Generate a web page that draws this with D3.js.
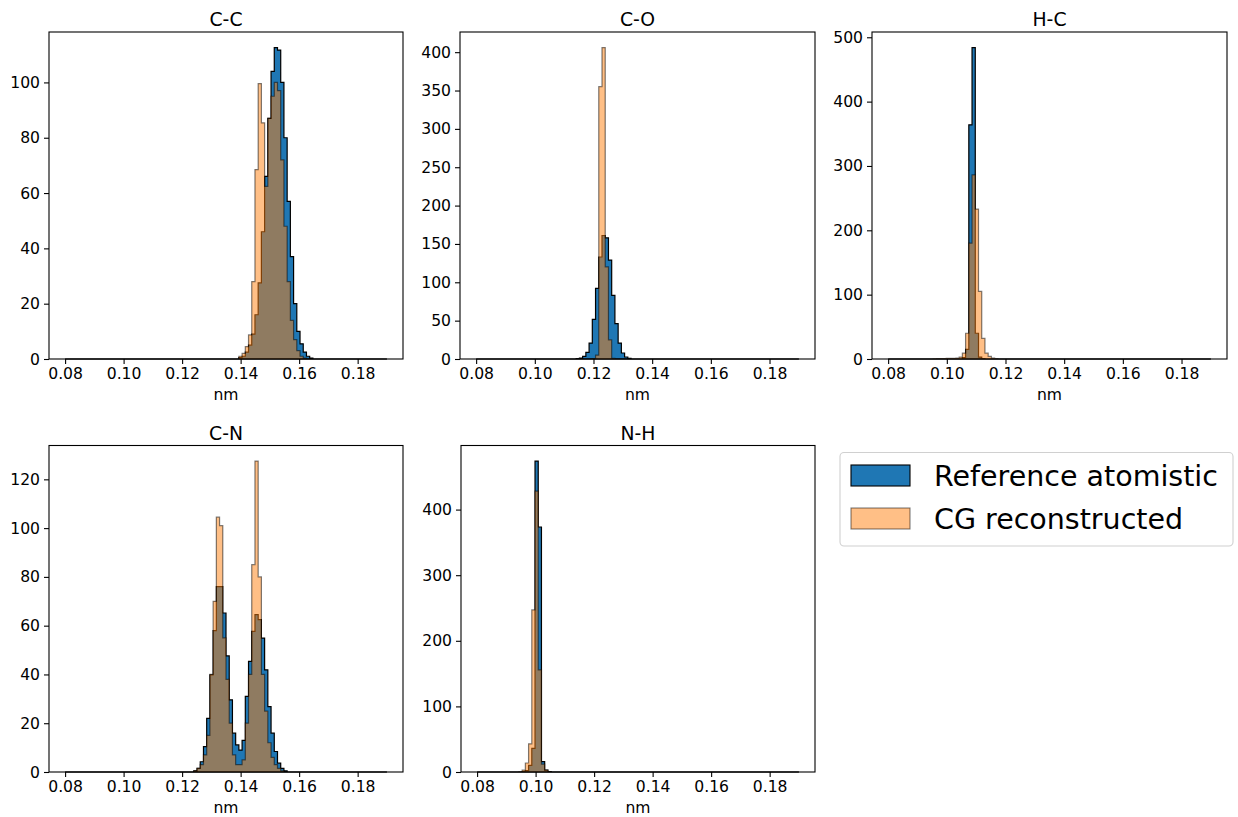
<!DOCTYPE html>
<html><head><meta charset="utf-8">
<script src="https://cdn.jsdelivr.net/npm/d3@7"></script>
<style>body{margin:0;background:#fff} svg text{font-family:"DejaVu Sans",sans-serif}</style>
</head><body><svg id="c" width="1238" height="817"></svg>
<script>
// ---- data ----
const binStart = 0.08, binEnd = 0.19, binCount = 100;
const xTicks = [0.08, 0.10, 0.12, 0.14, 0.16, 0.18];
const panelNames = ["C-C", "C-O", "H-C", "C-N", "N-H"];
const seriesNames = ["Reference atomistic", "CG reconstructed"];

const ccRefFirstBin = 54;
const ccRef = [0.5, 1, 2.5, 5, 9, 16, 27.5, 46, 66, 87, 104, 112.6, 111.7, 100, 80, 57, 37, 20, 10, 5.5, 2.5, 1, 0.3];
const ccCgFirstBin = 54;
const ccCg = [1, 2, 4.5, 8.7, 28, 68.5, 99.6, 85.4, 62.4, 87, 95, 100, 97, 72, 48, 28, 14, 7, 3, 1, 0.3];
const ccYTicks = [0, 20, 40, 60, 80, 100];

const coRefFirstBin = 31;
const coRef = [0.4, 1.2, 3.5, 8.7, 20.8, 51.6, 92, 133, 161, 158, 129, 83, 46, 20.8, 7.8, 2.6, 0.8];
const coCgFirstBin = 36;
const coCg = [0.5, 5, 355, 406, 120, 25, 1];
const coYTicks = [0, 50, 100, 150, 200, 250, 300, 350, 400];

const hcRefFirstBin = 23;
const hcRef = [2, 15, 364, 484, 40, 3, 0.5];
const hcCgFirstBin = 14;
const hcCg = [0.3, 0.5, 0.6, 0.8, 1, 1, 1.2, 1.5, 3, 9, 40, 180, 286, 233, 105, 32, 9, 4, 1.5, 0.5];
const hcYTicks = [0, 100, 200, 300, 400, 500];

const cnRefFirstBin = 40;
const cnRef = [0.5, 1.5, 4.2, 10.4, 22, 39.8, 58, 76, 76, 65.2, 47.6, 29.6, 15.9, 11.1, 9, 13, 31, 45.4, 57.7, 64.5, 62.5, 54.9, 41.9, 26.8, 15.9, 8.4, 3.6, 1.5, 0.5];
const cnCgFirstBin = 40;
const cnCg = [0.5, 1.5, 3, 7, 15, 40, 70, 104.5, 101, 55, 38, 20, 7, 3, 3, 5, 20, 40, 85, 127.5, 80, 40, 25, 12, 6, 3, 1.5, 0.5];
const cnYTicks = [0, 20, 40, 60, 80, 100, 120];

const nhRefFirstBin = 14;
const nhRef = [0.5, 2, 10, 36, 474, 373.5, 15.7, 3, 0.5];
const nhCgFirstBin = 13;
const nhCg = [0.5, 3, 13.7, 43, 247, 428, 155.7, 12, 3, 0.5];
const nhYTicks = [0, 100, 200, 300, 400];

// ---- layout ----
const layout = [
  {l: 49, r: 403, t: 32, b: 359},
  {l: 460, r: 815, t: 32, b: 359},
  {l: 872, r: 1227, t: 32, b: 359},
  {l: 49, r: 403, t: 445.5, b: 772},
  {l: 461, r: 815, t: 445.5, b: 772}
];
const panels = [
  {ref: [ccRefFirstBin, ccRef], cg: [ccCgFirstBin, ccCg], yt: ccYTicks},
  {ref: [coRefFirstBin, coRef], cg: [coCgFirstBin, coCg], yt: coYTicks},
  {ref: [hcRefFirstBin, hcRef], cg: [hcCgFirstBin, hcCg], yt: hcYTicks},
  {ref: [cnRefFirstBin, cnRef], cg: [cnCgFirstBin, cnCg], yt: cnYTicks},
  {ref: [nhRefFirstBin, nhRef], cg: [nhCgFirstBin, nhCg], yt: nhYTicks}
];

const binW = (binEnd - binStart) / binCount;
const edges = d3.range(binCount + 1).map(i => binStart + i * binW);
function full(first, vals) {
  const a = new Array(binCount).fill(0);
  vals.forEach((v, i) => { a[first + i] = v; });
  return a;
}

const svg = d3.select("#c");
const margin = (binEnd - binStart) * 0.05;

panels.forEach((p, k) => {
  const L = layout[k];
  const ref = full(p.ref[0], p.ref[1]);
  const cg = full(p.cg[0], p.cg[1]);
  const ymax = d3.max(ref.concat(cg)) * 1.05;
  const x = d3.scaleLinear().domain([binStart - margin, binEnd + margin]).range([L.l, L.r]);
  const y = d3.scaleLinear().domain([0, ymax]).range([L.b, L.t]);
  const g = svg.append("g");

  function stepPath(counts) {
    const pts = [[x(edges[0]), y(0)]];
    counts.forEach((c, i) => { pts.push([x(edges[i]), y(c)]); pts.push([x(edges[i + 1]), y(c)]); });
    pts.push([x(edges[binCount]), y(0)]);
    return d3.line()(pts) + "Z";
  }
  g.append("path").attr("d", stepPath(ref)).attr("fill", "#1f77b4").attr("stroke", "#000")
    .attr("stroke-width", 1.2).attr("stroke-linejoin", "miter");
  g.append("path").attr("d", stepPath(cg)).attr("fill", "#ff7f0e").attr("fill-opacity", 0.5)
    .attr("stroke", "#000").attr("stroke-opacity", 0.5).attr("stroke-width", 1.2);

  // axes
  const xa = g.append("g").attr("transform", `translate(0,${L.b})`)
    .call(d3.axisBottom(x).tickValues(xTicks).tickFormat(d3.format(".2f")).tickSizeOuter(0).tickSize(5).tickPadding(4));
  const ya = g.append("g").attr("transform", `translate(${L.l},0)`)
    .call(d3.axisLeft(y).tickValues(p.yt).tickFormat(d3.format("d")).tickSizeOuter(0).tickSize(5).tickPadding(4));
  [xa, ya].forEach(a => {
    a.select(".domain").remove();
    a.selectAll("line").attr("stroke", "#000").attr("stroke-width", 1.1);
    a.selectAll("text").attr("fill", "#000").style("font-size", "15.6px").style("font-family", "DejaVu Sans");
  });
  g.append("rect").attr("x", L.l).attr("y", L.t).attr("width", L.r - L.l).attr("height", L.b - L.t)
    .attr("fill", "none").attr("stroke", "#000").attr("stroke-width", 1.1);

  g.append("text").attr("x", (L.l + L.r) / 2).attr("y", L.t - 6).attr("text-anchor", "middle")
    .style("font-size", "18.8px").text(panelNames[k]);
  g.append("text").attr("x", (L.l + L.r) / 2).attr("y", L.b + 41).attr("text-anchor", "middle")
    .style("font-size", "15.6px").text("nm");
});

// legend
const lg = svg.append("g");
lg.append("rect").attr("x", 840).attr("y", 452.5).attr("width", 393).attr("height", 93.5).attr("rx", 4)
  .attr("fill", "#fff").attr("stroke", "#d0d0d0").attr("stroke-width", 1.1);
const legFill = [{f: "#1f77b4", fo: 1, so: 1}, {f: "#ff7f0e", fo: 0.5, so: 0.5}];
seriesNames.forEach((name, i) => {
  const yy = 465 + i * 43;
  lg.append("rect").attr("x", 851).attr("y", yy).attr("width", 59).attr("height", 21)
    .attr("fill", legFill[i].f).attr("fill-opacity", legFill[i].fo)
    .attr("stroke", "#000").attr("stroke-opacity", legFill[i].so).attr("stroke-width", 1.1);
  lg.append("text").attr("x", 934).attr("y", yy + 20.5).style("font-size", "28.5px").text(name);
});
</script></body></html>
